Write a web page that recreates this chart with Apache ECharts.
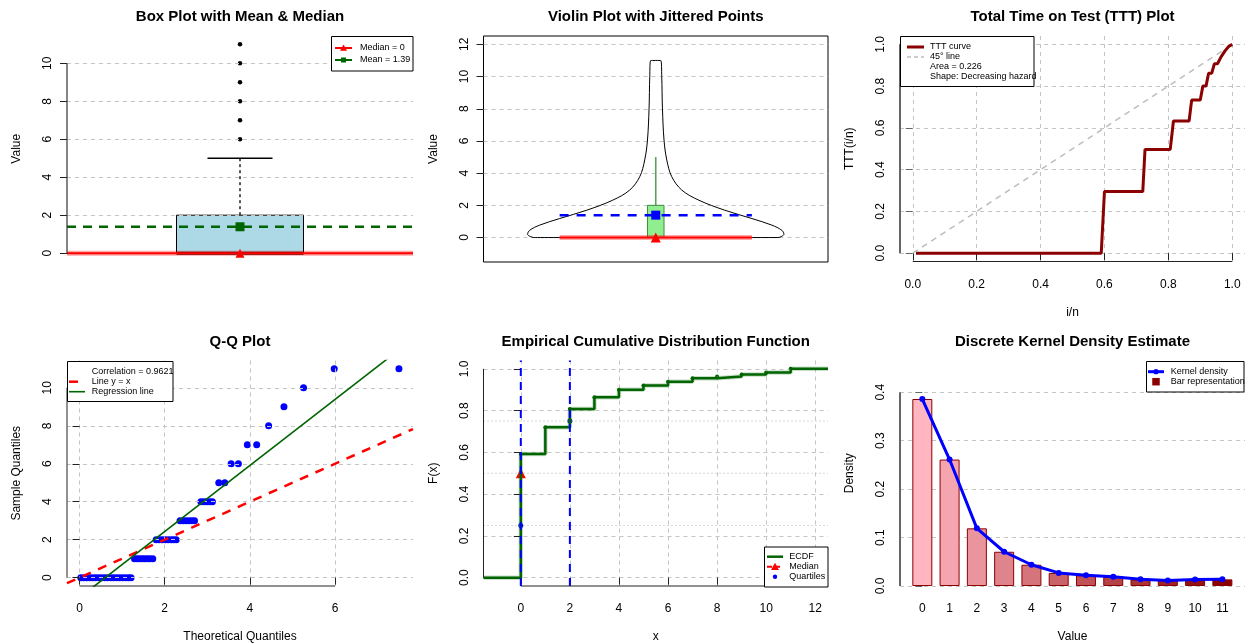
<!DOCTYPE html>
<html lang="en">
<head>
<meta charset="utf-8">
<title>Distribution diagnostics</title>
<script src="https://cdn.jsdelivr.net/npm/echarts@6.0.0/dist/echarts.min.js"></script>
<style>
  html, body { margin: 0; padding: 0; background: #fff; }
  #main { width: 1247px; height: 644px; }
</style>
</head>
<body>
<div id="main"></div>
<script>
// ---- values ----
// box plot
var boxStats = [0, 0, 0, 2, 5];            // lower whisker, Q1, median, Q3, upper whisker
var boxOutliers = [6, 7, 8, 9, 10, 11];
var sampleMedian = 0;
var sampleMean = 1.39;

// violin outline: height and half width (x units)
var violinY = [0, 0.08, 0.2, 0.45, 0.77, 1.18, 1.7, 2.32, 2.95, 3.78, 4.82, 6.06, 8.04, 10.0, 11.0];
var violinHalfWidth = [0.355, 0.366, 0.372, 0.366, 0.337, 0.279, 0.2, 0.125, 0.0755, 0.0464, 0.032, 0.024, 0.0194, 0.0174, 0.0145];

// TTT curve
var tttX = [0.01, 0.59, 0.60, 0.72, 0.727, 0.806, 0.816, 0.865, 0.873, 0.90, 0.908, 0.918, 0.926, 0.936, 0.944, 0.954, 0.965, 0.978, 0.989, 1.0];
var tttY = [0, 0, 0.295, 0.295, 0.497, 0.497, 0.633, 0.633, 0.733, 0.733, 0.80, 0.80, 0.862, 0.862, 0.907, 0.907, 0.94, 0.97, 0.99, 1.0];
var tttArea = 0.226;

// Q-Q plot
var qqTheoretical = [0.03, 0.10, 0.17, 0.24, 0.31, 0.38, 0.45, 0.52, 0.59, 0.66, 0.73, 0.80, 0.87, 0.94, 1.01, 1.08, 1.15, 1.21,
  1.29, 1.35, 1.41, 1.47, 1.53, 1.59, 1.65, 1.72,
  1.80, 1.87, 1.94, 2.01, 2.08, 2.15, 2.21, 2.27,
  2.36, 2.43, 2.50, 2.57, 2.64, 2.70,
  2.85, 2.92, 2.99, 3.06, 3.12,
  3.27, 3.41, 3.56, 3.73, 3.94, 4.16, 4.44, 4.80, 5.26, 5.98, 7.50];
var qqSample = [0, 0, 0, 0, 0, 0, 0, 0, 0, 0, 0, 0, 0, 0, 0, 0, 0, 0,
  1, 1, 1, 1, 1, 1, 1, 1,
  2, 2, 2, 2, 2, 2, 2, 2,
  3, 3, 3, 3, 3, 3,
  4, 4, 4, 4, 4,
  5, 5, 6, 6, 7, 7, 8, 9, 10, 11, 11];
var qqCorrelation = 0.9621;
var regIntercept = -1.05;
var regSlope = 1.74;

// ECDF
var ecdfX = [0, 1, 2, 3, 4, 5, 6, 7, 8, 9, 10, 11];
var ecdfF = [0.592, 0.72, 0.808, 0.864, 0.90, 0.92, 0.938, 0.955, 0.963, 0.973, 0.983, 1.0];
var quartiles = [0, 2];
var quartileLevels = [0.25, 0.5, 0.75];

// discrete kernel density
var kdeX = [0, 1, 2, 3, 4, 5, 6, 7, 8, 9, 10, 11];
var kdeDensity = [0.386, 0.261, 0.119, 0.0707, 0.0439, 0.027, 0.022, 0.019, 0.0137, 0.0115, 0.0135, 0.0137];
var barColors = ['#ffb6c1', '#f4a5af', '#ea959e', '#df848c', '#d5747b', '#ca6369', '#c05358', '#b54246', '#ab3235', '#a02123', '#961112', '#8b0000'];

// tick labels
var ticks1Y = [0, 2, 4, 6, 8, 10];
var ticks2Y = [0, 2, 4, 6, 8, 10, 12];
var ticks3 = [0, 0.2, 0.4, 0.6, 0.8, 1.0];
var ticks4X = [0, 2, 4, 6];
var ticks4Y = [0, 2, 4, 6, 8, 10];
var ticks5X = [0, 2, 4, 6, 8, 10, 12];
var ticks5Y = [0, 0.2, 0.4, 0.6, 0.8, 1.0];
var ticks6Y = [0, 0.1, 0.2, 0.3, 0.4];

// ---- axis limits (R style, 4% padding) ----
var lim = [
  {x: [0.5, 1.5], y: [-0.44, 11.44]},
  {x: [0.5, 1.5], y: [-1.52, 12.52]},
  {x: [-0.04, 1.04], y: [-0.04, 1.04]},
  {x: [-0.294, 7.83], y: [-0.44, 11.44]},
  {x: [-1.52, 12.52], y: [-0.04, 1.04]},
  {x: [-0.818, 11.83], y: [0, 0.4655]}
];

var FONT = '"Liberation Sans", Arial, Helvetica, sans-serif';
var GRID_COLOR = '#c4c4c4';
var one = function (v) { return v.toFixed(1); };

function axis(dim, gi, o) {
  var vertical = dim === 'y';
  var l = lim[gi][dim];
  return {
    type: 'value', gridIndex: gi, min: l[0], max: l[1], show: o.show !== false, z: o.z || 0,
    axisLine: {show: false},
    axisTick: {show: !!o.ticks && o.tick !== false, customValues: o.ticks, length: 7,
      lineStyle: {color: o.color || '#222', width: 1}},
    axisLabel: {show: !!o.ticks, customValues: o.ticks, rotate: vertical ? 90 : 0, margin: vertical ? 13 : 17,
      fontSize: 12, fontFamily: FONT, color: '#000', formatter: o.fmt || function (v) { return String(v); }},
    splitLine: {show: !!o.grid, lineStyle: {color: GRID_COLOR, width: 1, type: [4, 4]}},
    name: o.name || '', nameLocation: 'middle', nameGap: vertical ? 44 : 45,
    nameTextStyle: {fontSize: 12, fontFamily: FONT, color: '#000'}
  };
}

function line(gi, data, color, width, dash, extra) {
  var s = {type: 'line', xAxisIndex: gi, yAxisIndex: gi, data: data, symbol: 'none', silent: true,
    lineStyle: {color: color, width: width, type: dash || 'solid', cap: 'butt'}};
  for (var k in (extra || {})) s[k] = extra[k];
  return s;
}
function points(gi, data, symbol, size, color) {
  return {type: 'scatter', xAxisIndex: gi, yAxisIndex: gi, data: data, symbol: symbol, symbolSize: size,
    silent: true, itemStyle: {color: color, opacity: 1}};
}
// R-style axis line running from the first to the last tick
function rAxisLine(gi, dim, ticks, color, width) {
  var a = ticks[0], b = ticks[ticks.length - 1];
  var data = dim === 'y' ? [[lim[gi].x[0], a], [lim[gi].x[0], b]] : [[a, lim[gi].y[0]], [b, lim[gi].y[0]]];
  return line(gi, data, color, width, null, {clip: false, z: 4});
}
function boxItem(fill, stroke, whiskerColor, whiskerWidth, whiskerDash, halfWidth, capHalf, medianWidth) {
  return function (params, api) {
    var x = api.value(0), q1 = api.value(2), med = api.value(3), q3 = api.value(4), hi = api.value(5);
    var a = api.coord([x - halfWidth, q3]);
    var b = api.coord([x + halfWidth, q1]);
    var c = api.coord([x, q3]);
    var d = api.coord([x, hi]);
    var kids = [
      {type: 'line', shape: {x1: c[0], y1: c[1], x2: d[0], y2: d[1]},
        style: {stroke: whiskerColor, lineWidth: whiskerWidth, lineDash: whiskerDash}},
      {type: 'rect', shape: {x: a[0], y: a[1], width: b[0] - a[0], height: b[1] - a[1]},
        style: {fill: fill, stroke: stroke, lineWidth: 1}}
    ];
    if (capHalf) {
      var e = api.coord([x - capHalf, hi]), f = api.coord([x + capHalf, hi]);
      kids.push({type: 'line', shape: {x1: e[0], y1: e[1], x2: f[0], y2: f[1]}, style: {stroke: '#000', lineWidth: 1.3}});
    }
    if (medianWidth) {
      var g = api.coord([x - halfWidth, med]), h = api.coord([x + halfWidth, med]);
      kids.push({type: 'line', shape: {x1: g[0], y1: g[1], x2: h[0], y2: h[1]}, style: {stroke: '#000', lineWidth: medianWidth}});
    }
    return {type: 'group', children: kids};
  };
}
function pairs(xs, ys) { return xs.map(function (x, i) { return [x, ys[i]]; }); }

var series = [];

// ---------- 1: box plot ----------
series.push({type: 'custom', xAxisIndex: 0, yAxisIndex: 0, silent: true, data: [[1].concat(boxStats)],
  renderItem: boxItem('#add8e6', '#000', '#000', 1.3, [3, 3], 0.1835, 0.094, 3)});
series.push(line(0, [[lim[0].x[0], sampleMedian], [lim[0].x[1], sampleMedian]], 'rgba(255,0,0,0.35)', 5));
series.push(line(0, [[lim[0].x[0], sampleMedian], [lim[0].x[1], sampleMedian]], '#ff0000', 2));
series.push(line(0, [[lim[0].x[0], sampleMean], [lim[0].x[1], sampleMean]], '#006400', 2.5, [9, 7]));
series.push(points(0, boxOutliers.map(function (v) { return [1, v]; }), 'circle', 4.5, '#000'));
series.push(points(0, [[1, sampleMean]], 'rect', 9, '#006400'));
series.push(points(0, [[1, sampleMedian]], 'triangle', 9, '#ff0000'));
series.push(rAxisLine(0, 'y', ticks1Y, '#333', 1.2));

// ---------- 2: violin ----------
var outline = [];
violinY.forEach(function (y, i) { outline.push([1 - violinHalfWidth[i], y]); });
for (var i = violinY.length - 1; i >= 0; i--) outline.push([1 + violinHalfWidth[i], violinY[i]]);
outline.push([1 - violinHalfWidth[0], violinY[0]]);
series.push(line(1, outline, '#000', 1, null, {smooth: 0.35}));
var segHalf = 0.279;
series.push(line(1, [[1 - segHalf, sampleMedian], [1 + segHalf, sampleMedian]], 'rgba(255,0,0,0.35)', 5));
series.push(line(1, [[1 - segHalf, sampleMedian], [1 + segHalf, sampleMedian]], '#ff0000', 2));
series.push(line(1, [[1 - segHalf, sampleMean], [1 + segHalf, sampleMean]], '#0000ff', 2.5, [9, 8]));
series.push({type: 'custom', xAxisIndex: 1, yAxisIndex: 1, silent: true, z: 3, data: [[1].concat(boxStats)],
  renderItem: boxItem('#90ee90', '#3c8d3c', '#5b9f5b', 1.6, null, 0.024, 0, 0)});
series.push(points(1, [[1, sampleMean]], 'rect', 9, '#0000ff'));
series.push(points(1, [[1, sampleMedian]], 'triangle', 10, '#ff0000'));
series[series.length - 1].z = 4; series[series.length - 2].z = 4;

// ---------- 3: TTT ----------
series.push(line(2, [[0, 0], [1, 1]], '#bdbdbd', 1.5, [6, 5]));
series.push(line(2, pairs(tttX, tttY), '#8b0000', 3));
series.push(rAxisLine(2, 'y', ticks3, '#666', 2));
series.push(rAxisLine(2, 'x', ticks3, '#222', 1));

// ---------- 4: Q-Q ----------
series.push(points(3, pairs(qqTheoretical, qqSample), 'circle', 7, '#0000ff'));
series.push(line(3, [[lim[3].x[0], lim[3].x[0]], [lim[3].x[1], lim[3].x[1]]], '#ff0000', 2.5, [9, 8]));
series.push(line(3, [[lim[3].x[0], regIntercept + regSlope * lim[3].x[0]], [lim[3].x[1], regIntercept + regSlope * lim[3].x[1]]], '#006400', 1.6));
series.push(rAxisLine(3, 'y', ticks4Y, '#222', 1));
series.push(rAxisLine(3, 'x', ticks4X, '#222', 1));

// ---------- 5: ECDF ----------
var steps = [[lim[4].x[0], 0]].concat(pairs(ecdfX, ecdfF)).concat([[lim[4].x[1], ecdfF[ecdfF.length - 1]]]);
quartileLevels.forEach(function (q) {
  series.push(line(4, [[lim[4].x[0], q], [lim[4].x[1], q]], '#b0b0b0', 1, [1, 3]));
});
series.push(line(4, steps, 'rgba(0,100,0,0.22)', 4.5, null, {step: 'end'}));
series.push(line(4, steps, '#006400', 2.5, null, {step: 'end'}));
series.push(points(4, pairs(ecdfX, ecdfF), 'circle', 4, '#006400'));
quartiles.forEach(function (q) {
  series.push(line(4, [[q, lim[4].y[0]], [q, lim[4].y[1]]], '#0000ff', 2, [8, 6]));
});
series.push(points(4, [[quartiles[0], 0.25], [quartiles[1], 0.75]], 'circle', 5, '#0000ff'));
series.push(points(4, [[sampleMedian, 0.5]], 'triangle', 10, '#ff0000'));
series.push(rAxisLine(4, 'y', ticks5Y, '#222', 1));
series.push(rAxisLine(4, 'x', ticks5X, '#222', 1));

// ---------- 6: discrete KDE ----------
series.push({type: 'bar', xAxisIndex: 5, yAxisIndex: 5, barWidth: 20, silent: true,
  itemStyle: {borderColor: '#8b0000', borderWidth: 1},
  data: kdeX.map(function (x, i) { return {value: [x, kdeDensity[i]], itemStyle: {color: barColors[i]}}; })});
series.push({type: 'line', xAxisIndex: 5, yAxisIndex: 5, silent: true, data: pairs(kdeX, kdeDensity),
  symbol: 'circle', symbolSize: 6, showSymbol: true, itemStyle: {color: '#0000ff'},
  lineStyle: {color: '#0000ff', width: 3}});
series.push(rAxisLine(5, 'y', ticks6Y, '#666', 2));

// ---------- legends (graphic) ----------
function gRect(x, y, w, h) {
  return {type: 'rect', z: 100, shape: {x: x, y: y, width: w, height: h}, style: {fill: '#fff', stroke: '#000', lineWidth: 1}};
}
function gLine(x1, y, x2, color, width, dash) {
  return {type: 'line', z: 101, shape: {x1: x1, y1: y, x2: x2, y2: y}, style: {stroke: color, lineWidth: width, lineDash: dash || null}};
}
function gText(x, y, text) {
  return {type: 'text', z: 101, x: x, y: y, style: {text: text, fontSize: 9, fontFamily: FONT, fill: '#000', verticalAlign: 'middle'}};
}
function gTri(cx, cy, s, color) {
  return {type: 'polygon', z: 102, shape: {points: [[cx, cy - s], [cx - s, cy + s * 0.8], [cx + s, cy + s * 0.8]]}, style: {fill: color}};
}
function gSquare(cx, cy, s, color) {
  return {type: 'rect', z: 102, shape: {x: cx - s / 2, y: cy - s / 2, width: s, height: s}, style: {fill: color}};
}
function gDot(cx, cy, r, color) {
  return {type: 'circle', z: 102, shape: {cx: cx, cy: cy, r: r}, style: {fill: color}};
}

var graphics = [
  // box plot
  gRect(331.5, 36.5, 81.5, 34.5),
  gLine(335, 48, 352, '#ff0000', 2), gTri(343.5, 48, 3.5, '#ff0000'), gText(360, 48, 'Median = ' + sampleMedian),
  gLine(335, 60, 352, '#006400', 2), gSquare(343.5, 60, 5, '#006400'), gText(360, 60, 'Mean = ' + sampleMean),
  // TTT
  gRect(900.5, 36.5, 133.5, 50),
  gLine(907, 47, 924, '#8b0000', 3), gText(930, 47, 'TTT curve'),
  gLine(907, 57, 924, '#bdbdbd', 1.5, [4, 3]), gText(930, 57, '45° line'),
  gText(930, 67, 'Area = ' + tttArea),
  gText(930, 77, 'Shape: Decreasing hazard'),
  // Q-Q
  gRect(67.5, 361.5, 105.5, 40),
  gText(91.7, 371.7, 'Correlation = ' + qqCorrelation),
  gLine(69, 381.7, 86, '#ff0000', 2.5, [9, 8]), gText(91.7, 381.7, 'Line y = x'),
  gLine(69, 391.7, 85, '#006400', 1.6), gText(91.7, 391.7, 'Regression line'),
  // ECDF
  gRect(764.5, 547, 63.5, 40),
  gLine(767, 556.7, 783, '#006400', 2.5), gText(789.3, 556.7, 'ECDF'),
  gLine(767, 566.7, 783, '#ff0000', 2, [5, 3]), gTri(775, 566.7, 4, '#ff0000'), gText(789.3, 566.7, 'Median'),
  gDot(775, 576.7, 2.2, '#0000ff'), gText(789.3, 576.7, 'Quartiles'),
  // KDE
  gRect(1146.5, 361.5, 97.5, 30.5),
  gLine(1148, 371.7, 1164, '#0000ff', 3), gDot(1156, 371.7, 2.6, '#0000ff'), gText(1170.7, 371.7, 'Kernel density'),
  gSquare(1156, 381.7, 7.5, '#8b0000'), gText(1170.7, 381.7, 'Bar representation')
];

function title(text, cx, top) {
  return {text: text, left: cx, top: top, textAlign: 'center', padding: 0,
    textStyle: {fontSize: 15, fontWeight: 'bold', fontFamily: FONT, color: '#000'}};
}

var option = {
  animation: false,
  backgroundColor: '#fff',
  title: [
    title('Box Plot with Mean & Median', 240, 9),
    title('Violin Plot with Jittered Points', 655.75, 9),
    title('Total Time on Test (TTT) Plot', 1072.5, 9),
    title('Q-Q Plot', 240, 334),
    title('Empirical Cumulative Distribution Function', 655.75, 334),
    title('Discrete Kernel Density Estimate', 1072.5, 334)
  ],
  grid: [
    {left: 67, top: 36, width: 346, height: 225.5},
    {left: 483.5, top: 36, width: 344.5, height: 226, show: true, borderColor: '#000', borderWidth: 1, backgroundColor: 'transparent'},
    {left: 900, top: 36, width: 345, height: 225.5},
    {left: 67, top: 360.5, width: 346, height: 226.5},
    {left: 483.5, top: 360.5, width: 344.5, height: 226.5},
    {left: 900, top: 360.5, width: 345, height: 226.5}
  ],
  xAxis: [
    axis('x', 0, {show: false}),
    axis('x', 1, {show: false}),
    axis('x', 2, {ticks: ticks3, grid: true, fmt: one, name: 'i/n', z: 3}),
    axis('x', 3, {ticks: ticks4X, grid: true, name: 'Theoretical Quantiles', z: 3}),
    axis('x', 4, {ticks: ticks5X, grid: true, name: 'x', z: 3}),
    axis('x', 5, {ticks: kdeX, tick: false, name: 'Value'})
  ],
  yAxis: [
    axis('y', 0, {ticks: ticks1Y, grid: true, name: 'Value', z: 3}),
    axis('y', 1, {ticks: ticks2Y, grid: true, name: 'Value', z: 3}),
    axis('y', 2, {ticks: ticks3, grid: true, fmt: one, name: 'TTT(i/n)', z: 3, color: '#666'}),
    axis('y', 3, {ticks: ticks4Y, grid: true, name: 'Sample Quantiles', z: 3}),
    axis('y', 4, {ticks: ticks5Y, grid: true, fmt: one, name: 'F(x)', z: 3}),
    axis('y', 5, {ticks: ticks6Y, grid: true, fmt: one, name: 'Density', color: '#666'})
  ],
  series: series,
  graphic: graphics
};

var chart = echarts.init(document.getElementById('main'), null, {renderer: 'canvas'});
chart.setOption(option);
</script>
</body>
</html>
